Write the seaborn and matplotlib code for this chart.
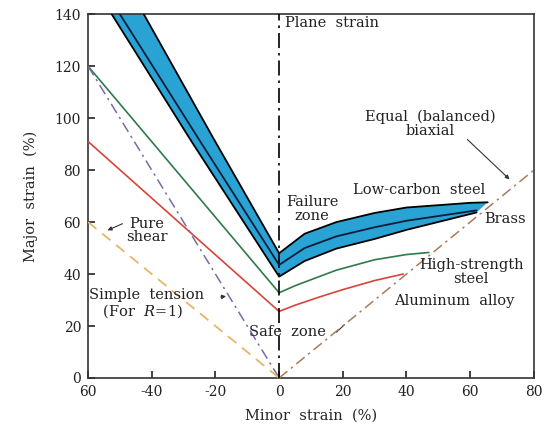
import matplotlib
matplotlib.use("Agg")
import matplotlib.pyplot as plt
import seaborn as sns

# ---------------- data ----------------
band_upper_x = [-60, -42.5, -21, 0, 8, 18, 30, 40, 60, 65.5]
band_upper_y = [178, 140, 93, 48, 55.5, 60, 63.5, 65.6, 67.4, 67.6]
band_lower_x = [-60, -27.5, 0, 8, 18, 30, 40, 62]
band_lower_y = [154.5, 91, 39, 45, 49.8, 53.5, 57, 63.7]
band_mid_x = [-60, -24.4, 0, 8, 18, 30, 40, 62]
band_mid_y = [159.4, 90.3, 43.5, 50, 54.5, 58, 60.5, 64.5]

high_strength_x = [-60, 0, 5, 18, 30, 40, 47]
high_strength_y = [120, 32.8, 35.5, 41.5, 45.5, 47.5, 48.3]
aluminum_x = [-60, 0, 5, 13, 20, 30, 39]
aluminum_y = [91, 25.6, 28, 31.3, 34, 37.5, 40]

simple_tension_x = [-60, 0]
simple_tension_y = [120, 0]
pure_shear_x = [-60, 0]
pure_shear_y = [60, 0]
biaxial_x = [0, 80]
biaxial_y = [0, 80]
plane_strain_x = [0, 0]
plane_strain_y = [0, 140]

x_ticks = [-60, -40, -20, 0, 20, 40, 60, 80]
x_tick_labels = ["60", "-40", "-20", "0", "20", "40", "60", "80"]
y_ticks = [0, 20, 40, 60, 80, 100, 120, 140]
y_tick_labels = ["0", "20", "40", "60", "80", "100", "120", "140"]

# ---------------- style ----------------
sns.set_theme(style="white")
plt.rcParams["font.family"] = ["DejaVu Serif"]
plt.rcParams["mathtext.fontset"] = "dejavuserif"

fig = plt.figure(figsize=(5.47, 4.30), dpi=100)
ax = fig.add_axes([0.161, 0.121, 0.815, 0.846])

BLUE = "#29a3d4"
GREEN = "#2f7a4a"
RED = "#d9443a"
PURPLE = "#7b6aa6"
ORANGE = "#e6b56a"
BROWN = "#a57c5c"

# band polygon
poly_x = band_upper_x + band_lower_x[::-1]
poly_y = band_upper_y + band_lower_y[::-1]
ax.fill(poly_x, poly_y, color=BLUE, lw=0, zorder=2)

def line(x, y, color, lw=1.2, z=3, dashes=None):
    sns.lineplot(x=x, y=y, ax=ax, color=color, lw=lw, sort=False,
                 estimator=None, legend=False, zorder=z)
    ln = ax.lines[-1]
    if dashes is not None:
        ln.set_dashes(dashes)
    return ln

line(band_upper_x, band_upper_y, "black", lw=1.3, z=4)
line(band_lower_x, band_lower_y, "black", lw=1.3, z=4)
line(band_mid_x, band_mid_y, "#0b1c3a", lw=1.3, z=4)
line(high_strength_x, high_strength_y, GREEN, lw=1.2)
line(aluminum_x, aluminum_y, RED, lw=1.2)
line(simple_tension_x, simple_tension_y, PURPLE, lw=1.1, dashes=(7, 3, 1.5, 3))
line(pure_shear_x, pure_shear_y, ORANGE, lw=1.3, dashes=(6, 4))
line(biaxial_x, biaxial_y, BROWN, lw=1.1, dashes=(7, 3, 1.5, 3))
line(plane_strain_x, plane_strain_y, "black", lw=1.2, dashes=(9, 3, 1.5, 3))

ax.set_xlim(-60, 80)
ax.set_ylim(0, 140)
ax.set_xticks(x_ticks)
ax.set_xticklabels(x_tick_labels)
ax.set_yticks(y_ticks)
ax.set_yticklabels(y_tick_labels)
ax.tick_params(direction="in", length=5, width=1.2, labelsize=10,
               colors="#222222", bottom=True, left=True, pad=5)
for s in ax.spines.values():
    s.set_color("#333333")
    s.set_linewidth(1.2)
ax.set_xlabel("Minor  strain  (%)", fontsize=10.5, labelpad=7)
ax.set_ylabel("Major  strain  (%)", fontsize=10.5, labelpad=12)

fs = 10.5
tc = "#222222"
arrow_kw = dict(arrowstyle="-|>", color="#333333", lw=0.8, mutation_scale=6)
ax.text(1.9, 136.7, "Plane  strain", fontsize=fs, color=tc, va="center", ha="left")
ax.text(47.5, 97.8, "Equal  (balanced)\nbiaxial", fontsize=fs, color=tc,
        va="center", ha="center", linespacing=1.0)
ax.annotate("", xy=(73, 75.7), xytext=(58.5, 92.5), arrowprops=arrow_kw)
ax.text(23.1, 72.3, "Low-carbon  steel", fontsize=fs, color=tc, va="center", ha="left")
ax.text(10.3, 64.9, "Failure\nzone", fontsize=fs, color=tc, va="center", ha="center",
        linespacing=1.0)
ax.text(64.4, 61, "Brass", fontsize=fs, color=tc, va="center", ha="left")
ax.text(60.3, 40.75, "High-strength\nsteel", fontsize=fs, color=tc, va="center",
        ha="center", linespacing=1.0)
ax.text(55, 29.5, "Aluminum  alloy", fontsize=fs, color=tc, va="center", ha="center")
ax.text(-9.4, 17.8, "Safe  zone", fontsize=fs, color=tc, va="center", ha="left")
ax.plot([18.0, 20.5], [17.6, 20.5], color="#333333", lw=0.8)
ax.text(-41.6, 56.7, "Pure\nshear", fontsize=fs, color=tc, va="center", ha="center",
        linespacing=0.95)
ax.annotate("", xy=(-54.7, 56.4), xytext=(-48.4, 59.8), arrowprops=arrow_kw)
ax.text(-59.8, 28.4, "Simple  tension\n   (For  $R$=1)", fontsize=fs, color=tc,
        va="center", ha="left", linespacing=1.0)
ax.annotate("", xy=(-15.8, 31.6), xytext=(-19.2, 31.0), arrowprops=arrow_kw)

fig.savefig("out.png", dpi=100)
